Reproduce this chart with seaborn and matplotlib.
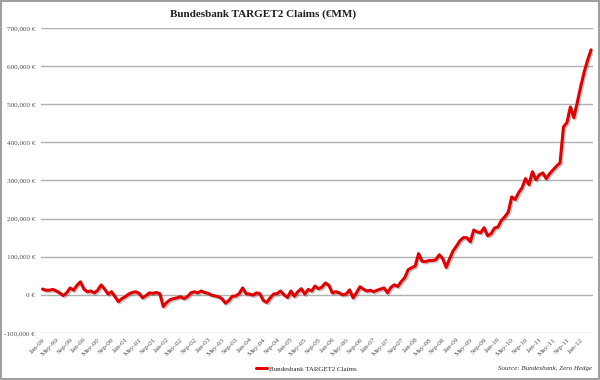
import matplotlib
matplotlib.use("Agg")
import matplotlib.pyplot as plt
import matplotlib.patheffects as pe
from matplotlib.lines import Line2D
import seaborn as sns
import pandas as pd
import numpy as np

# Monthly values, Jan-99 .. Apr-12 (EUR millions, thousands)
claims_k = [
    15, 12, 12, 14, 10, 5, -2, 5, 18, 12, 25, 34,
    15, 8, 10, 5, 12, 26, 15, 2, 8, -5, -18, -10,
    -5, 2, 6, 8, 4, -8, -2, 5, 4, 6, 3, -31,
    -20, -13, -10, -8, -5, -10, -5, 5, 8, 5, 10, 6,
    4, -1, -3, -5, -10, -22, -15, -4, -3, 3, 18, 3,
    2, -1, 5, 3, -15, -20, -8, 2, 3, 10, 0, -7,
    10, -4, 8, 16, 2, 14, 10, 23, 16, 20, 31, 25,
    5, 8, 5, 0, 2, 13, -8, 5, 21, 15, 10, 12,
    8, 12, 15, 18, 5, 20, 26, 22, 35, 45, 66, 71,
    75, 108, 88, 87, 90, 90, 92, 105, 95, 72, 95, 115,
    128, 142, 150, 150, 139, 170, 165, 163, 176, 155, 160, 175,
    178, 195, 205, 217, 257, 250, 268, 281, 305, 289, 323, 302,
    315, 320, 305, 318, 328, 338, 346, 441, 452, 493, 465, 505,
    547, 585, 616, 643,
]
months = pd.date_range("1999-01-01", periods=len(claims_k), freq="MS")
month_labels = [d.strftime("%b-%y") for d in months]
series_name = "Bundesbank TARGET2 Claims"
title = "Bundesbank TARGET2 Claims (\u20acMM)"
source = "Source: Bundesbank, Zero Hedge"

df = pd.DataFrame({
    "idx": np.arange(len(claims_k)),
    "value": np.array(claims_k) * 1000.0,
    "series": series_name,
})

sns.set_theme(style="white")
plt.rcParams["font.family"] = ["Liberation Serif", "DejaVu Serif"]

fig = plt.figure(figsize=(6, 3.8), dpi=100)
fig.patch.set_facecolor("white")
fig.patch.set_edgecolor("#a0a0a0")
fig.patch.set_linewidth(1.5)
ax = fig.add_axes([0.068, 0.124, 0.92, 0.802])

sns.lineplot(data=df, x="idx", y="value", hue="series", palette=["#e00000"],
             linewidth=2.2, ax=ax, legend=False,
             path_effects=[pe.SimpleLineShadow(offset=(1, -1), alpha=0.25), pe.Normal()])

ax.set_ylim(-100000, 700000)
ax.set_xlim(-0.5, len(claims_k) - 0.5)
yt = np.arange(-100000, 700001, 100000)
ax.set_yticks(yt)
ax.set_yticklabels([f"{v:,.0f} \u20ac" for v in yt], fontsize=5.2, color="#505050")
ax.yaxis.grid(True, color="#b0b0b0", linewidth=1)
ax.xaxis.grid(False)
for s in ax.spines.values():
    s.set_visible(False)
ax.tick_params(axis="y", length=0, pad=4)

xt = list(range(0, len(claims_k), 4))
ax.set_xticks(xt)
ax.set_xticklabels([month_labels[i] for i in xt], rotation=45, ha="right",
                   rotation_mode="anchor", fontsize=5.2, color="#505050")
ax.tick_params(axis="x", length=0, pad=3)
ax.set_xlabel("")
ax.set_ylabel("")

fig.text(0.438, 0.962, title, ha="center", va="center", fontsize=8,
         fontweight="bold", color="#202020")

# legend
h = Line2D([0], [0], color="#e00000", linewidth=2.2)
fig.legend([h], [series_name], loc="center", bbox_to_anchor=(0.51, 0.03),
           frameon=False, fontsize=5, handlelength=1.6, handletextpad=0.3)
fig.text(0.987, 0.03, source, ha="right", va="center", fontsize=5,
         style="italic", color="#303030")

fig.savefig("out.png", dpi=100, facecolor=fig.get_facecolor(), edgecolor=fig.get_edgecolor())
